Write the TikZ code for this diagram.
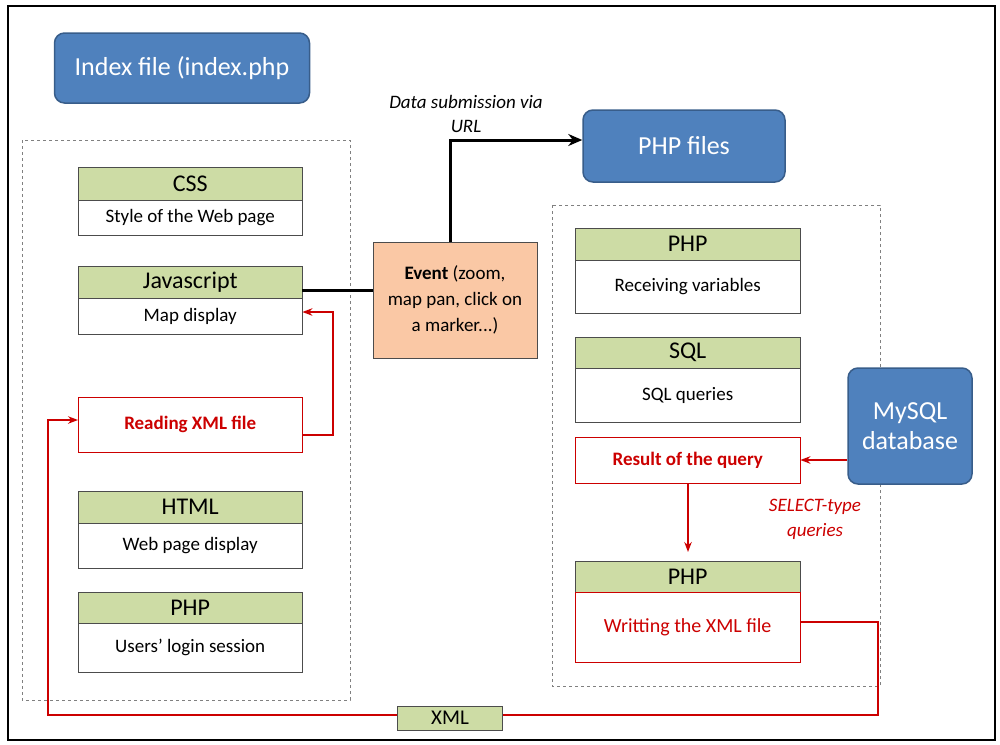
\documentclass[tikz,border=0pt]{standalone}
\usepackage{fontspec}
\setmainfont{Carlito}
\usetikzlibrary{arrows.meta,positioning}
\begin{document}
\begin{tikzpicture}[x=1pt,y=-1pt,
 blue/.style={draw=bb,fill=bl,rounded corners=10pt,text=white,font=\fontsize{26}{30}\selectfont,line width=1.5pt},
 hdr/.style={draw=black!70,fill=hg,font=\fontsize{24}{28}\selectfont,anchor=north west,inner sep=0pt},
 bdy/.style={draw=black!70,fill=white,font=\fontsize{19}{22}\selectfont,anchor=north west,inner sep=0pt},
 rbox/.style={draw=red!80!black,fill=white,text=red!80!black,font=\bfseries\fontsize{19}{22}\selectfont,anchor=north west,inner sep=0pt},
 dbox/.style={draw=gray,dashed},
 rarr/.style={draw=red!80!black,line width=1.5pt,-{Stealth[length=10pt]}},
 barr/.style={draw=black,line width=3pt}]
\definecolor{hg}{RGB}{205,220,165}
\definecolor{bl}{RGB}{79,129,189}
\definecolor{bb}{RGB}{56,93,138}
\definecolor{ev}{RGB}{250,200,165}
\useasboundingbox (0,0) rectangle (1000,744);
\draw[line width=1.5pt] (8,6) rectangle (995,740);
\node[blue,minimum width=255,minimum height=70] (idx) at (182,68) {Index file (index.php};
\draw[dbox] (22,140) rectangle (350,700);
\draw[dbox] (552,205) rectangle (880,686);
% left column
\node[hdr,minimum width=224,minimum height=33] (cssh) at (78,167) {CSS};
\node[bdy,minimum width=224,minimum height=35] (cssb) at (78,200) {Style of the Web page};
\node[hdr,minimum width=224,minimum height=32] (jsh) at (78,266) {Javascript};
\node[bdy,minimum width=224,minimum height=36] (jsb) at (78,298) {Map display};
\node[rbox,minimum width=224,minimum height=55] (rxml) at (78,397) {Reading XML file};
\node[hdr,minimum width=224,minimum height=32] (htmlh) at (78,491) {HTML};
\node[bdy,minimum width=224,minimum height=45] (htmlb) at (78,523) {Web page display};
\node[hdr,minimum width=224,minimum height=31] (phph) at (78,592) {PHP};
\node[bdy,minimum width=224,minimum height=49] (phpb) at (78,623) {Users’ login session};
% event
\node[draw=black!70,fill=ev,minimum width=164,minimum height=116,align=center,font=\fontsize{19}{26}\selectfont] (ev) at (455,300) {\textbf{Event} (zoom,\\map pan, click on\\a marker...)};
\node[blue,minimum width=202,minimum height=72] (phpf) at (684,146) {PHP files};
\node[font=\itshape\fontsize{19}{24}\selectfont,align=center] (ds) at (466,114) {Data submission via\\URL};
% right column
\node[hdr,minimum width=225,minimum height=32] (p1h) at (575,228) {PHP};
\node[bdy,minimum width=225,minimum height=53] (p1b) at (575,260) {Receiving variables};
\node[hdr,minimum width=225,minimum height=31] (sqlh) at (575,337) {SQL};
\node[bdy,minimum width=225,minimum height=54] (sqlb) at (575,368) {SQL queries};
\node[rbox,minimum width=225,minimum height=46] (res) at (575,437) {Result of the query};
\node[hdr,minimum width=225,minimum height=31] (p2h) at (575,561) {PHP};
\node[rbox,font=\fontsize{20}{24}\selectfont,minimum width=225,minimum height=70] (wr) at (575,592) {Writting the XML file};
\node[blue,minimum width=124,minimum height=116,align=center] (my) at (910,426) {MySQL\\database};
\node[text=red!80!black,font=\itshape\fontsize{19}{25}\selectfont,align=center] (sel) at (815,519) {SELECT-type\\queries};
% connectors
\draw[barr] (jsh.south east) ++(0,-8) coordinate (j1) -- (j1 -| ev.west);
\coordinate (up) at (450,140);
\draw[barr,-{Stealth[length=14pt,width=12pt]}] (ev.north -| up) -- (up) -- (up -| phpf.west);
\coordinate (r1) at (333,435);
\draw[rarr] (rxml.east |- r1) -- (r1) -- (333,312) -- (jsb.east |- 0,312);
\draw[rarr] (my.west |- 0,460) -- (res.east |- 0,460);
\draw[rarr] (res.south -| 688,0) -- (688,552);
\coordinate (x1) at (878,622);
\coordinate (x2) at (878,715);
\coordinate (x3) at (48,715);
\coordinate (x4) at (48,420);
\draw[rarr] (wr.east |- x1) -- (x1) -- (x2) -- (x3) -- (x4) -- (rxml.west |- x4);
\node[draw=black!70,fill=hg,minimum width=105,minimum height=24,font=\fontsize{21}{24}\selectfont] (xml) at (450,718) {XML};
\end{tikzpicture}
\end{document}
